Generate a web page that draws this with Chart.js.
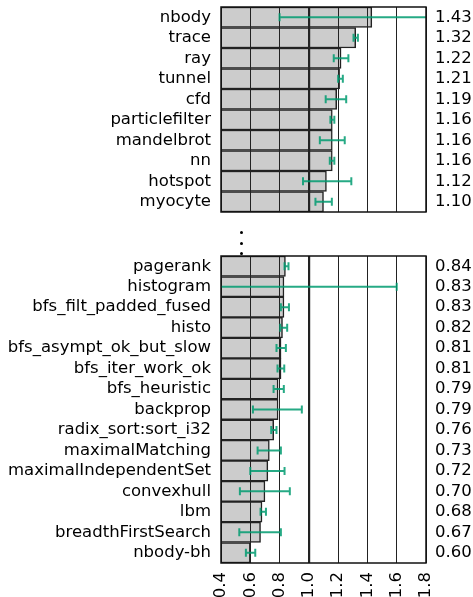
<!DOCTYPE html>
<html>
<head>
<meta charset="utf-8">
<script src="https://cdn.jsdelivr.net/npm/chart.js@4"></script>
<style>
  body { margin: 0; background: #fff; width: 473px; height: 597px; position: relative; overflow: hidden; }
  .panel { position: absolute; left: 0; width: 473px; }
  #topPanel { top: 0; height: 215px; }
  #bottomPanel { top: 240px; height: 357px; }
  .dot { position: absolute; left: 240px; width: 3px; height: 3px; border-radius: 50%; background: #000; }
</style>
</head>
<body>
<div class="panel" id="topPanel"><canvas id="chartTop"></canvas></div>
<div class="dot" style="top: 231px"></div>
<div class="dot" style="top: 242px"></div>
<div class="dot" style="top: 252px"></div>
<div class="panel" id="bottomPanel"><canvas id="chartBottom"></canvas></div>
<script>
// top block (fastest)
const topLabels = ['nbody', 'trace', 'ray', 'tunnel', 'cfd', 'particlefilter', 'mandelbrot', 'nn', 'hotspot', 'myocyte'];
const topValues = [1.43, 1.32, 1.22, 1.21, 1.19, 1.16, 1.16, 1.16, 1.12, 1.10];
const topErrLow = [0.80, 1.305, 1.17, 1.20, 1.115, 1.147, 1.075, 1.143, 0.96, 1.045];
const topErrHigh = [1.95, 1.335, 1.27, 1.232, 1.255, 1.174, 1.245, 1.174, 1.29, 1.157];

// bottom block (slowest)
const bottomLabels = ['pagerank', 'histogram', 'bfs_filt_padded_fused', 'histo', 'bfs_asympt_ok_but_slow',
  'bfs_iter_work_ok', 'bfs_heuristic', 'backprop', 'radix_sort:sort_i32', 'maximalMatching',
  'maximalIndependentSet', 'convexhull', 'lbm', 'breadthFirstSearch', 'nbody-bh'];
const bottomValues = [0.84, 0.83, 0.83, 0.82, 0.81, 0.81, 0.79, 0.79, 0.76, 0.73, 0.72, 0.70, 0.68, 0.67, 0.60];
const bottomErrLow = [0.834, 0.30, 0.809, 0.804, 0.779, 0.786, 0.759, 0.618, 0.743, 0.65, 0.60, 0.529, 0.67, 0.525, 0.57];
const bottomErrHigh = [0.861, 1.60, 0.864, 0.852, 0.843, 0.832, 0.829, 0.952, 0.779, 0.809, 0.834, 0.87, 0.707, 0.809, 0.634];

const xTicks = [0.4, 0.6, 0.8, 1.0, 1.2, 1.4, 1.6, 1.8];

Chart.defaults.font.family = '"DejaVu Sans"';
Chart.defaults.font.size = 16.5;
Chart.defaults.color = '#000';

// error bars + frame, drawn on top of everything
const errorBars = {
  id: 'errorBars',
  afterDraw(chart, args, opts) {
    const { ctx, chartArea: a, scales: { x, y } } = chart;
    ctx.save();
    ctx.beginPath();
    ctx.rect(a.left, a.top, a.right - a.left, a.bottom - a.top);
    ctx.clip();
    ctx.strokeStyle = 'rgba(0, 155, 112, 0.85)';
    ctx.lineWidth = 2;
    opts.low.forEach((lo, i) => {
      const yc = y.getPixelForValue(i);
      const x0 = x.getPixelForValue(lo);
      const x1 = x.getPixelForValue(opts.high[i]);
      ctx.beginPath();
      ctx.moveTo(x0, yc); ctx.lineTo(x1, yc);
      ctx.moveTo(x0, yc - 4); ctx.lineTo(x0, yc + 4);
      ctx.moveTo(x1, yc - 4); ctx.lineTo(x1, yc + 4);
      ctx.stroke();
    });
    ctx.restore();
    ctx.save();
    ctx.strokeStyle = '#111';
    ctx.lineWidth = 1.5;
    ctx.strokeRect(a.left, a.top, a.right - a.left, a.bottom - a.top);
    ctx.restore();
  }
};

// quitar el relleno automatico que Chart.js agrega por las etiquetas
function noPad(axis) {
  axis.paddingTop = 0;
  axis.paddingBottom = 0;
  axis.paddingLeft = 0;
  axis.paddingRight = 0;
}

function makeConfig(labels, values, low, high, showTicks, padTop, xHeight) {
  return {
    type: 'bar',
    data: {
      labels: labels,
      datasets: [{
        data: values,
        backgroundColor: '#cccccc',
        borderColor: '#222',
        borderWidth: 1.5,
        barPercentage: 1,
        categoryPercentage: 1
      }]
    },
    options: {
      indexAxis: 'y',
      responsive: true,
      maintainAspectRatio: false,
      animation: false,
      layout: { padding: { top: padTop, bottom: 0, left: 0, right: 0 } },
      plugins: {
        legend: { display: false },
        tooltip: { enabled: false },
        errorBars: { low: low, high: high }
      },
      scales: {
        x: {
          type: 'linear',
          min: 0.4,
          max: 1.8,
          afterBuildTicks: (axis) => { axis.ticks = xTicks.map(v => ({ value: v })); },
          afterFit: (axis) => { axis.height = xHeight; noPad(axis); },
          border: { display: false },
          grid: {
            z: 1,
            color: '#222',
            lineWidth: (c) => Math.abs(c.tick.value - 1) < 1e-9 ? 2.2 : 1,
            drawTicks: false
          },
          ticks: {
            display: showTicks,
            minRotation: 90,
            maxRotation: 90,
            padding: 9,
            callback: (v) => Number(v).toFixed(1)
          }
        },
        y: {
          type: 'category',
          position: 'left',
          afterFit: (axis) => { axis.width = 221; noPad(axis); },
          border: { display: false },
          grid: { display: false, drawTicks: false },
          ticks: { padding: 10, autoSkip: false }
        },
        y2: {
          type: 'category',
          position: 'right',
          labels: values.map(v => v.toFixed(2)),
          offset: true,
          afterFit: (axis) => { axis.width = 47; noPad(axis); },
          border: { display: false },
          grid: { display: false, drawTicks: false },
          ticks: { padding: 9, autoSkip: false }
        }
      }
    },
    plugins: [errorBars]
  };
}

window.addEventListener('DOMContentLoaded', () => {
  new Chart(document.getElementById('chartTop'),
    makeConfig(topLabels, topValues, topErrLow, topErrHigh, false, 7, 3));
  new Chart(document.getElementById('chartBottom'),
    makeConfig(bottomLabels, bottomValues, bottomErrLow, bottomErrHigh, true, 16, 34));
});
</script>
</body>
</html>
